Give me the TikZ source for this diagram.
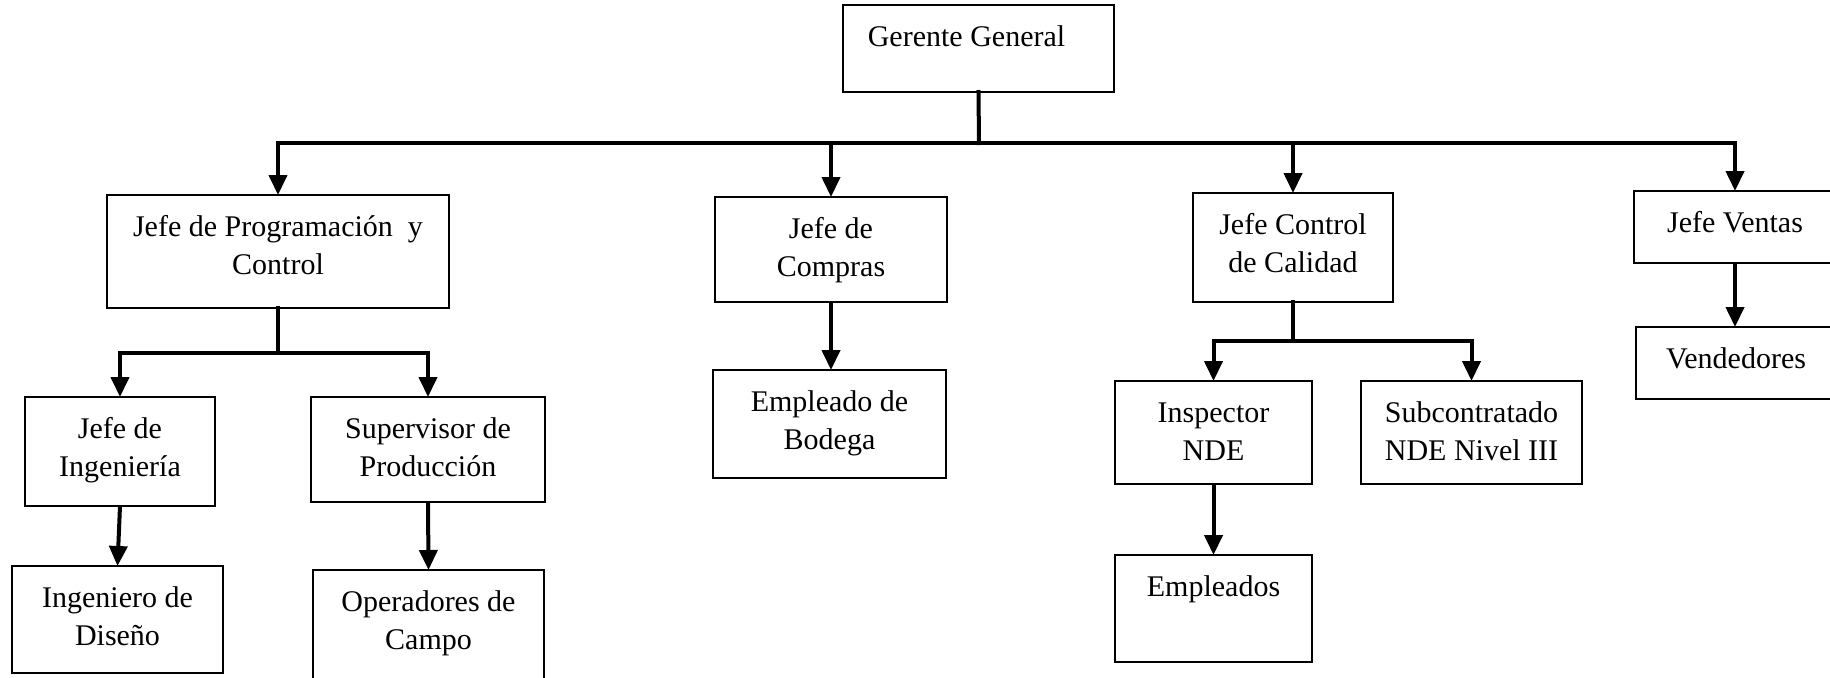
\documentclass[tikz,border=0pt]{standalone}
\usepackage{fontspec}
\setmainfont{Liberation Serif}
\usetikzlibrary{arrows.meta}
\newcommand\tl[1]{\begin{tabular}[t]{@{}c@{}}#1\end{tabular}}
\tikzset{
  boxst/.style={draw, line width=1.1pt, inner sep=0pt, outer sep=0pt, fill=white},
  txt/.style={anchor=base, inner sep=0pt, font=\fontsize{15}{19}\selectfont},
  conn/.style={line width=2pt, line cap=rect},
  arr/.style={line width=2pt, -{Triangle[width=9pt,length=10pt]}}
}
\newcommand\orgbox[7]{%
  \node[boxst, minimum width=#4*0.5pt, minimum height=#5*0.5pt] (#1) at (#2,#3) {};
  \node[txt] (#1t) at ([yshift=-20.5pt,xshift=#7]#1.north) {\tl{#6}};
}
\begin{document}
\begin{tikzpicture}[x=0.5pt,y=-0.5pt]
\useasboundingbox (0,0) rectangle (1830,677);
\fill[white] (0,0) rectangle (1830,677);
% boxes
\orgbox{gg}{978.5}{48.5}{271}{87}{Gerente General}{-6pt}
\orgbox{jpc}{278}{251.5}{342}{113}{Jefe de Programación\ \ y\\Control}{0pt}
\orgbox{jc}{831}{249.5}{232}{105}{Jefe de\\Compras}{0pt}
\orgbox{jcc}{1293}{247.5}{200}{109}{Jefe Control\\de Calidad}{0pt}
\orgbox{jv}{1735}{227}{202}{72}{Jefe Ventas}{0pt}
\orgbox{ji}{120}{451.5}{190}{109}{Jefe de\\Ingeniería}{0pt}
\orgbox{sp}{428}{449.5}{234}{105}{Supervisor de\\Producción}{0pt}
\orgbox{ed}{117.5}{619.5}{211}{107}{Ingeniero de\\Diseño}{0pt}
\orgbox{oc}{428.5}{630}{231}{120}{Operadores de\\Campo}{0pt}
\orgbox{eb}{829.5}{424}{233}{108}{Empleado de\\Bodega}{0pt}
\orgbox{in}{1213.5}{432.5}{197}{103}{Inspector\\NDE}{0pt}
\orgbox{sub}{1471.5}{432.5}{221}{103}{Subcontratado\\NDE Nivel III}{0pt}
\orgbox{emp}{1213.5}{608.5}{197}{107}{Empleados}{0pt}
\orgbox{ven}{1736}{363}{200}{72}{Vendedores}{0pt}
% buses
\coordinate (bus) at (979,143);
\coordinate (b1) at (279,353);
\coordinate (b2) at (1293,341);
\draw[conn] (gg.south) -- (bus);
\draw[conn] (jpc.north |- bus) -- (jv.north |- bus);
\draw[arr] (jpc.north |- bus) -- (jpc.north);
\draw[arr] (jc.north |- bus) -- (jc.north);
\draw[arr] (jcc.north |- bus) -- (jcc.north);
\draw[arr] (jv.north |- bus) -- (jv.north);
% programming subtree
\draw[conn] (jpc.south) -- (jpc.south |- b1);
\draw[conn] (ji.north |- b1) -- (sp.north |- b1);
\draw[arr] (ji.north |- b1) -- (ji.north);
\draw[arr] (sp.north |- b1) -- (sp.north);
\draw[arr] (ji.south) -- (ed.north);
\draw[arr] (sp.south) -- (oc.north);
% purchases
\draw[arr] (jc.south) -- (jc.south |- eb.north);
% quality subtree
\draw[conn] (jcc.south) -- (jcc.south |- b2);
\draw[conn] (in.north |- b2) -- (sub.north |- b2);
\draw[arr] (in.north |- b2) -- (in.north);
\draw[arr] (sub.north |- b2) -- (sub.north);
\draw[arr] (in.south) -- (emp.north);
% sales
\draw[arr] (jv.south) -- (jv.south |- ven.north);
\end{tikzpicture}
\end{document}
